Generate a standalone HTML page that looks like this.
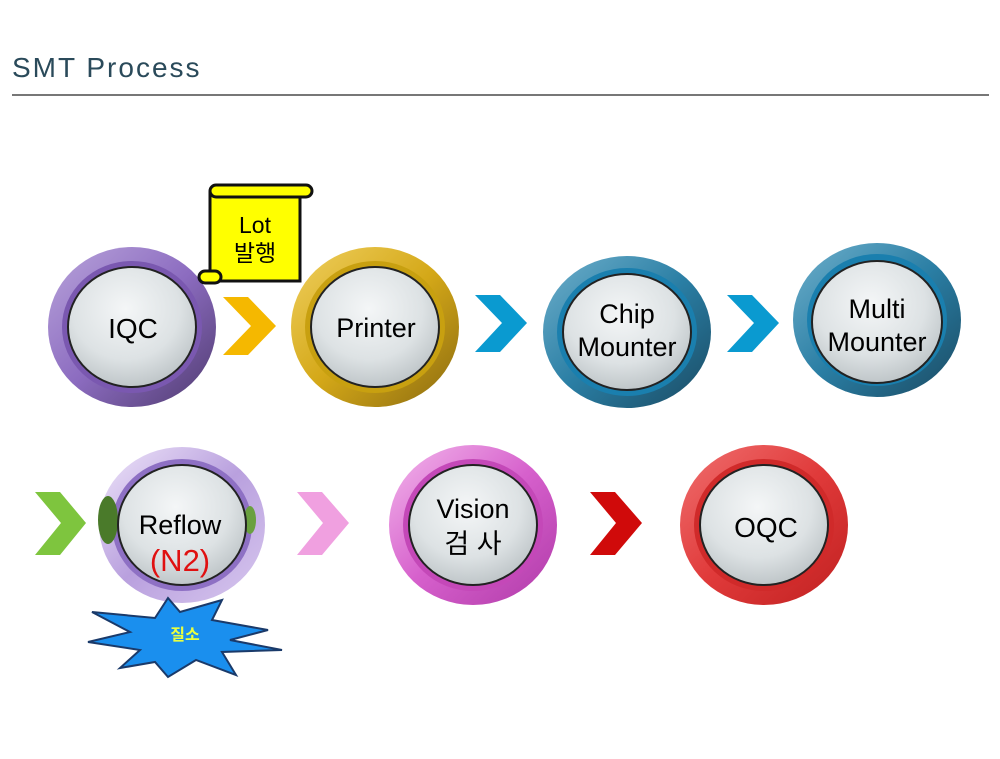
<!DOCTYPE html>
<html><head><meta charset="utf-8"><style>
html,body{margin:0;padding:0;background:#fff;}
svg{display:block}
text{font-family:"Liberation Sans","Noto Sans CJK KR",sans-serif;}
</style></head><body>
<svg width="1000" height="759" viewBox="0 0 1000 759" xmlns="http://www.w3.org/2000/svg">
<defs>
<radialGradient id="inner" cx="45%" cy="35%" r="70%">
<stop offset="0" stop-color="#f4f6f7"/><stop offset="0.6" stop-color="#dde2e4"/><stop offset="1" stop-color="#b9c0c3"/>
</radialGradient>
<linearGradient id="gP" x1="0" y1="0" x2="1" y2="1"><stop offset="0" stop-color="#b9a4db"/><stop offset="0.5" stop-color="#8c6cc0"/><stop offset="1" stop-color="#4e3a6e"/></linearGradient>
<linearGradient id="gY" x1="0" y1="0" x2="1" y2="1"><stop offset="0" stop-color="#f0d060"/><stop offset="0.5" stop-color="#d4a818"/><stop offset="1" stop-color="#8a6a10"/></linearGradient>
<linearGradient id="gB" x1="0" y1="0" x2="1" y2="1"><stop offset="0" stop-color="#6fb0cc"/><stop offset="0.5" stop-color="#2a7ea4"/><stop offset="1" stop-color="#1a4a62"/></linearGradient>
<linearGradient id="gL" x1="0" y1="0" x2="1" y2="1"><stop offset="0" stop-color="#efe6fa"/><stop offset="0.5" stop-color="#b9a0de"/><stop offset="1" stop-color="#d8c8ef"/></linearGradient>
<linearGradient id="gM" x1="0" y1="0" x2="1" y2="1"><stop offset="0" stop-color="#f3b8ec"/><stop offset="0.5" stop-color="#d660cc"/><stop offset="1" stop-color="#b03aa8"/></linearGradient>
<linearGradient id="gR" x1="0" y1="0" x2="1" y2="1"><stop offset="0" stop-color="#f07070"/><stop offset="0.5" stop-color="#e03a3a"/><stop offset="1" stop-color="#c02020"/></linearGradient>
</defs>
<text x="12" y="77" font-size="28" fill="#2a4a5a" letter-spacing="2">SMT Process</text>
<rect x="12" y="94" width="977" height="2" fill="#777"/>

<polygon points="223,297 248,297 276,326 248,355 223,355 251,326" fill="#f5b800"/>
<polygon points="475,295 500,295 527,323 500,352 475,352 502,323" fill="#0a9ad0"/>
<polygon points="727,295 752,295 779,323 752,352 727,352 754,323" fill="#0a9ad0"/>
<polygon points="35,492 60,492 86,523 60,555 35,555 61,523" fill="#7ec53e"/>
<polygon points="297,492 322,492 349,523 322,555 297,555 323,523" fill="#f0a0e0"/>
<polygon points="590,492 615,492 642,523 615,555 590,555 616,523" fill="#d00a0a"/>

<g>
<ellipse cx="132" cy="327" rx="84" ry="80" fill="url(#gP)"/>
<ellipse cx="132" cy="327" rx="70" ry="66" fill="#7a58b0"/>
<ellipse cx="132" cy="327" rx="64" ry="60" fill="url(#inner)" stroke="#222" stroke-width="2"/>
<text x="133" y="338" font-size="28" text-anchor="middle">IQC</text>
</g>
<g>
<ellipse cx="375" cy="327" rx="84" ry="80" fill="url(#gY)"/>
<ellipse cx="375" cy="327" rx="70" ry="66" fill="#c8a010"/>
<ellipse cx="375" cy="327" rx="64" ry="60" fill="url(#inner)" stroke="#222" stroke-width="2"/>
<text x="376" y="337" font-size="27" text-anchor="middle">Printer</text>
</g>
<g>
<ellipse cx="627" cy="332" rx="84" ry="76" fill="url(#gB)"/>
<ellipse cx="627" cy="332" rx="70" ry="64" fill="#1a7fae"/>
<ellipse cx="627" cy="332" rx="64" ry="58" fill="url(#inner)" stroke="#222" stroke-width="2"/>
<text x="627" y="323" font-size="27" text-anchor="middle">Chip</text>
<text x="627" y="356" font-size="27" text-anchor="middle">Mounter</text>
</g>
<g>
<ellipse cx="877" cy="320" rx="84" ry="77" fill="url(#gB)"/>
<ellipse cx="877" cy="320" rx="70" ry="66" fill="#1a7fae"/>
<ellipse cx="877" cy="322" rx="65" ry="61" fill="url(#inner)" stroke="#222" stroke-width="2"/>
<text x="877" y="318" font-size="27" text-anchor="middle">Multi</text>
<text x="877" y="351" font-size="27" text-anchor="middle">Mounter</text>
</g>
<g>
<ellipse cx="182" cy="525" rx="83" ry="78" fill="url(#gL)"/>
<ellipse cx="182" cy="525" rx="70" ry="66" fill="#8e70c4"/>
<ellipse cx="108" cy="520" rx="10" ry="24" fill="#4a7a2a"/>
<ellipse cx="250" cy="520" rx="6" ry="14" fill="#6aa040"/>
<ellipse cx="182" cy="525" rx="64" ry="60" fill="url(#inner)" stroke="#222" stroke-width="2"/>
<text x="180" y="534" font-size="27" text-anchor="middle">Reflow</text>
<text x="180" y="571" font-size="31" fill="#e01010" text-anchor="middle">(N2)</text>
</g>
<g>
<ellipse cx="473" cy="525" rx="84" ry="80" fill="url(#gM)"/>
<ellipse cx="473" cy="525" rx="70" ry="66" fill="#c448b8"/>
<ellipse cx="473" cy="525" rx="64" ry="60" fill="url(#inner)" stroke="#222" stroke-width="2"/>
<text x="473" y="518" font-size="27" text-anchor="middle">Vision</text>
<text x="473" y="553" font-size="27" text-anchor="middle">검 사</text>
</g>
<g>
<ellipse cx="764" cy="525" rx="84" ry="80" fill="url(#gR)"/>
<ellipse cx="764" cy="525" rx="70" ry="66" fill="#d02a2a"/>
<ellipse cx="764" cy="525" rx="64" ry="60" fill="url(#inner)" stroke="#222" stroke-width="2"/>
<text x="766" y="537" font-size="28" text-anchor="middle">OQC</text>
</g>

<g stroke="#111" stroke-width="3" fill="#ffff00">
<rect x="210" y="193" width="90" height="88"/>
<rect x="210" y="185" width="102" height="12" rx="6"/>
<rect x="199" y="271" width="22" height="12" rx="6"/>
</g>
<text x="255" y="233" font-size="23" text-anchor="middle">Lot</text>
<text x="255" y="261" font-size="23" text-anchor="middle">발행</text>

<polygon points="92,612 155,618 168,598 180,612 222,600 212,620 268,630 230,640 282,650 222,652 236,675 196,660 168,677 155,662 120,668 140,650 88,642 130,632" fill="#1a8fee" stroke="#1a3a6a" stroke-width="2"/>
<text x="185" y="640" font-size="16" font-weight="bold" fill="#e8ff40" text-anchor="middle">질소</text>
</svg>
</body></html>
